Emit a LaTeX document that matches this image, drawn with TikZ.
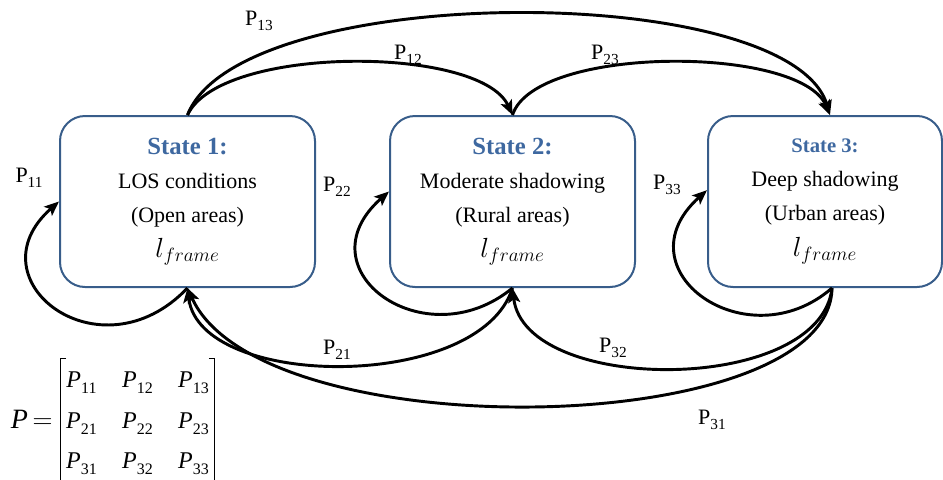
\documentclass[tikz,border=0pt]{standalone}
\usepackage{fontspec}
\setmainfont{Liberation Serif}
\usetikzlibrary{arrows.meta}

\definecolor{boxblue}{RGB}{56,93,138}
\definecolor{titleblue}{RGB}{62,104,160}
\newcommand{\plab}[1]{P\raisebox{-3.5pt}{\fontsize{11.5}{11.5}\selectfont #1}}
\newcommand{\mentry}[1]{\textit{P}\raisebox{-4.5pt}{\fontsize{12}{12}\selectfont #1}}

\begin{document}
\begin{tikzpicture}[x=0.75pt, y=-0.75pt, line width=2.2pt,
	state/.style = {draw=boxblue, line width=1.5pt, rounded corners=18.75pt, align=center, inner sep=0pt, minimum height=128.25pt, font=\fontsize{16.5}{25.5}\selectfont},
	trans/.style = {-{Stealth[length=11pt, width=9pt, inset=2.5pt]}},
	prob/.style = {inner sep=0pt, font=\fontsize{16.5}{16.5}\selectfont},
	brack/.style = {line width=0.8pt}]

		\useasboundingbox (0,0) rectangle (943,479);

		\node[state, minimum width=191.25pt] (b1) at (187.5,201.5) {{\color{titleblue}\bfseries\fontsize{18.5}{18.5}\selectfont State 1:}\\ LOS conditions\\ (Open areas)\\[1pt] {\fontsize{19.5}{19.5}\selectfont $l_{frame}$}};
		\node[state, minimum width=183.75pt] (b2) at (512.5,201.5) {{\color{titleblue}\bfseries\fontsize{18.5}{18.5}\selectfont State 2:}\\ Moderate shadowing\\ (Rural areas)\\[1pt] {\fontsize{19.5}{19.5}\selectfont $l_{frame}$}};
		\node[state, minimum width=175.5pt] (b3) at (825,201.5) {{\color{titleblue}\bfseries\fontsize{15.5}{15.5}\selectfont State 3:}\\ Deep shadowing\\ (Urban areas)\\[1pt] {\fontsize{19.5}{19.5}\selectfont $l_{frame}$}};

		% forward
		\draw[trans] (b1.north) .. controls (220,45) and (480,45) .. (b2.north);
		\draw[trans] (b2.north) .. controls (535,45) and (800,45) .. ([xshift=3.75pt]b3.north);
		\draw[trans] (b1.north) .. controls (240,-20) and (790,-20) .. ([xshift=3.75pt]b3.north);

		% backward
		\draw[trans] (b2.south) .. controls (480,392) and (200,390) .. (b1.south);
		\draw[trans] ([xshift=5.25pt]b3.south) .. controls (820,395) and (525,395) .. (b2.south);
		\draw[trans] ([xshift=5.25pt]b3.south) .. controls (830,440) and (260,450) .. (b1.south);

		% self loops
		\draw[trans] (b1.south) .. controls (100,380) and (-30,280) .. (b1.west);
		\draw[trans] (b2.south) .. controls (425,360) and (300,270) .. ([yshift=7.5pt]b2.west);
		\draw[trans] ([xshift=5.25pt]b3.south) .. controls (747,362) and (618,270) .. ([yshift=8.5pt]b3.west);

		\node[prob] (p11) at (29,178) {\plab{11}};
		\node[prob] (p22) at (337,187) {\plab{22}};
		\node[prob] (p33) at (667,185) {\plab{33}};
		\node[prob] (p12) at (408,55) {\plab{12}};
		\node[prob] (p23) at (605,55) {\plab{23}};
		\node[prob] (p13) at (259,21) {\plab{13}};
		\node[prob] (p21) at (337,350) {\plab{21}};
		\node[prob] (p32) at (613,348) {\plab{32}};
		\node[prob] (p31) at (712,420) {\plab{31}};

		% transition matrix
		\node[anchor=east, inner sep=0pt, font=\fontsize{21}{21}\selectfont] (peq) at (54,419) {\textit{P}\,$=$};
		\node[inner xsep=3pt, inner ysep=0pt, minimum height=87pt, font=\fontsize{18}{18}\selectfont] (pm) at (137.5,420) {\setlength{\tabcolsep}{9.5pt}\renewcommand{\arraystretch}{1.67}\begin{tabular}{@{}ccc@{}}
			\mentry{11} & \mentry{12} & \mentry{13}\\
			\mentry{21} & \mentry{22} & \mentry{23}\\
			\mentry{31} & \mentry{32} & \mentry{33}
		\end{tabular}};
		\draw[brack] ([xshift=4pt]pm.north west) -| (pm.south west) -- ([xshift=4pt]pm.south west);
		\draw[brack] ([xshift=-4pt]pm.north east) -| (pm.south east) -- ([xshift=-4pt]pm.south east);
	\end{tikzpicture}
\end{document}
